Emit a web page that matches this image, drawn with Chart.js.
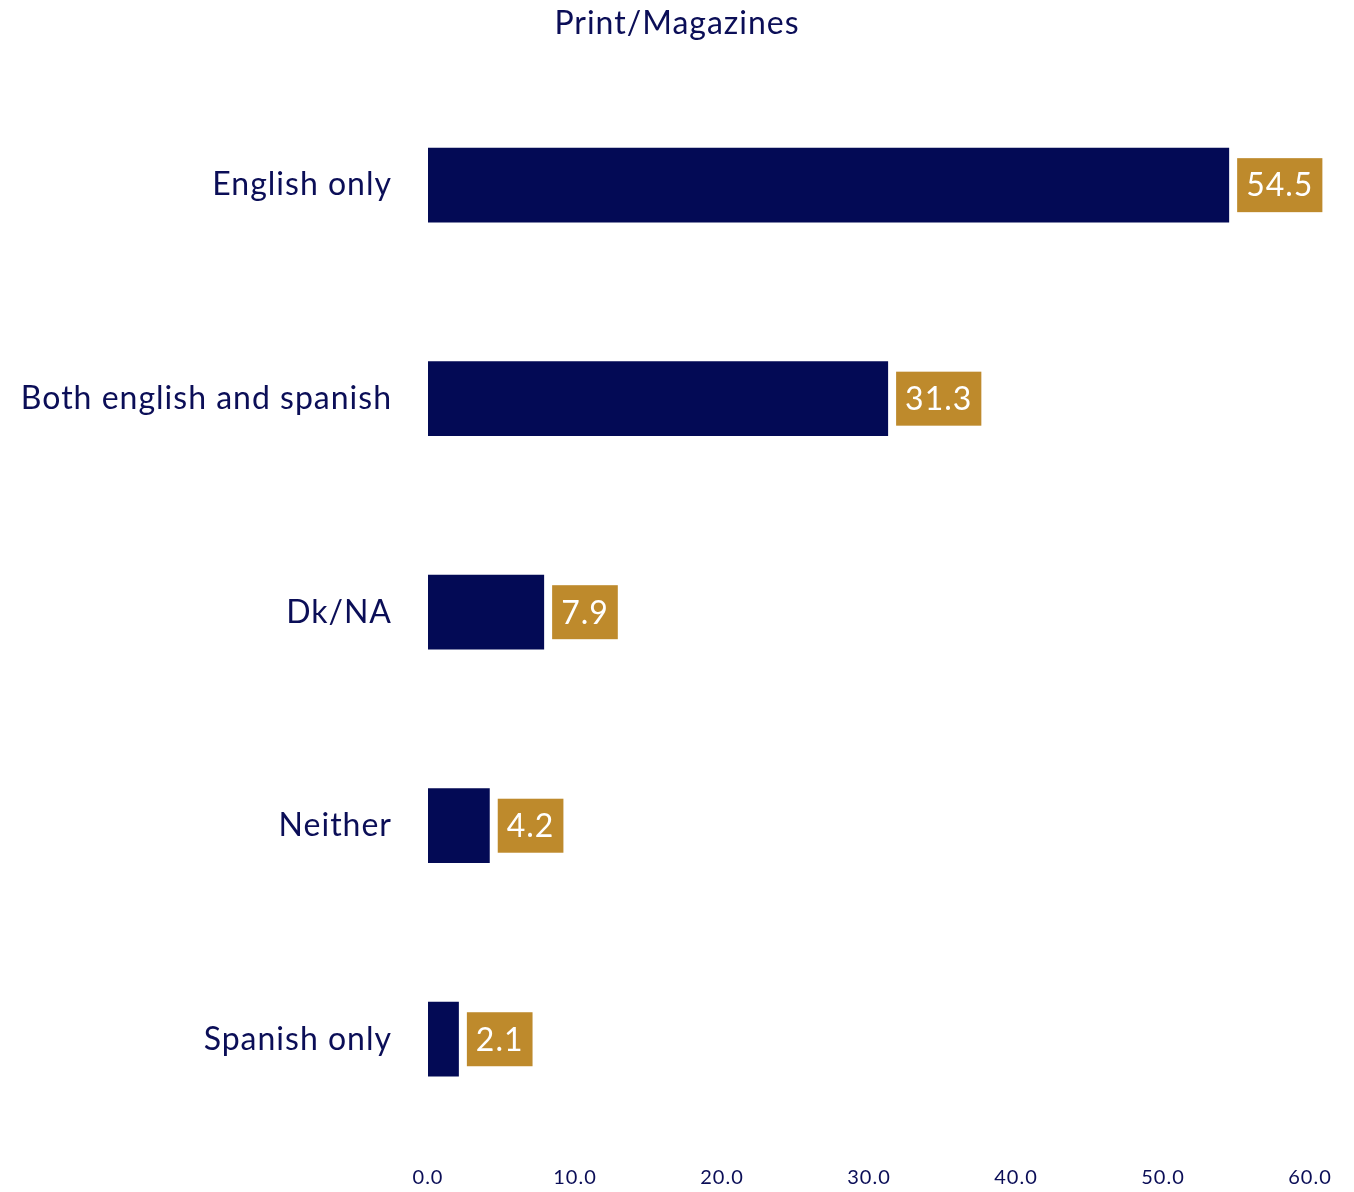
<!DOCTYPE html>
<html>
<head>
<meta charset="utf-8">
<script src="https://cdn.jsdelivr.net/npm/chart.js@4/dist/chart.umd.min.js"></script>
<style>
  body { margin: 0; background: #fff; }
  #wrap { width: 1354px; height: 1192px; }
</style>
</head>
<body>
<div id="wrap"><canvas id="chart"></canvas></div>
<script>
const categories = ["English only", "Both english and spanish", "Dk/NA", "Neither", "Spanish only"];
const values = [54.5, 31.3, 7.9, 4.2, 2.1];
const xTicks = [0, 10, 20, 30, 40, 50, 60];

const navy = "#030A55";
const textNavy = "#0B0E57";
const gold = "#BE8A2C";
const fontFam = "Lato, 'Open Sans', sans-serif";

// a bit of letter spacing, the original text is wide set
const spacing = {
  id: "spacing",
  beforeDraw(chart) { chart.ctx.letterSpacing = "1px"; }
};

// label boxes to the right of each bar
const boxLabels = {
  id: "boxLabels",
  afterDatasetsDraw(chart) {
    const ctx = chart.ctx;
    const meta = chart.getDatasetMeta(0);
    ctx.save();
    ctx.letterSpacing = "1px";
    ctx.font = "32px " + fontFam;
    ctx.textBaseline = "middle";
    meta.data.forEach((bar, i) => {
      const txt = values[i].toFixed(1);
      const w = ctx.measureText(txt).width + 18;
      const h = 54;
      const x = bar.x + 8;
      const y = bar.y - h / 2;
      ctx.fillStyle = gold;
      ctx.fillRect(x, y, w, h);
      ctx.fillStyle = "#fff";
      ctx.textAlign = "left";
      ctx.fillText(txt, x + 9, bar.y + 1);
    });
    ctx.restore();
  }
};

new Chart(document.getElementById("chart"), {
  type: "bar",
  data: {
    labels: categories,
    datasets: [{
      data: values,
      backgroundColor: navy,
      borderWidth: 0,
      barPercentage: 0.35,
      categoryPercentage: 1
    }]
  },
  options: {
    indexAxis: "y",
    responsive: true,
    maintainAspectRatio: false,
    animation: false,
    layout: { padding: 0 },
    plugins: {
      legend: { display: false },
      tooltip: { enabled: false },
      title: {
        display: true,
        text: "Print/Magazines",
        color: textNavy,
        font: { family: fontFam, size: 32, weight: "normal" },
        padding: { top: 4, bottom: 36 }
      }
    },
    scales: {
      x: {
        min: 0,
        max: 60,
        grid: { display: false, drawTicks: false },
        border: { display: false },
        afterBuildTicks: (s) => { s.ticks = xTicks.map(v => ({ value: v })); },
        afterFit: (s) => { s.height = 46; s.paddingRight = 44; },
        ticks: {
          color: textNavy,
          font: { family: fontFam, size: 20 },
          padding: 20,
          callback: (v) => Number(v).toFixed(1)
        }
      },
      y: {
        grid: { display: false, drawTicks: false },
        border: { display: false },
        afterFit: (s) => { s.width = 428; s.paddingTop = 0; s.paddingBottom = 0; },
        ticks: {
          color: textNavy,
          font: { family: fontFam, size: 32 },
          padding: 36
        }
      }
    }
  },
  plugins: [spacing, boxLabels]
});
</script>
</body>
</html>
